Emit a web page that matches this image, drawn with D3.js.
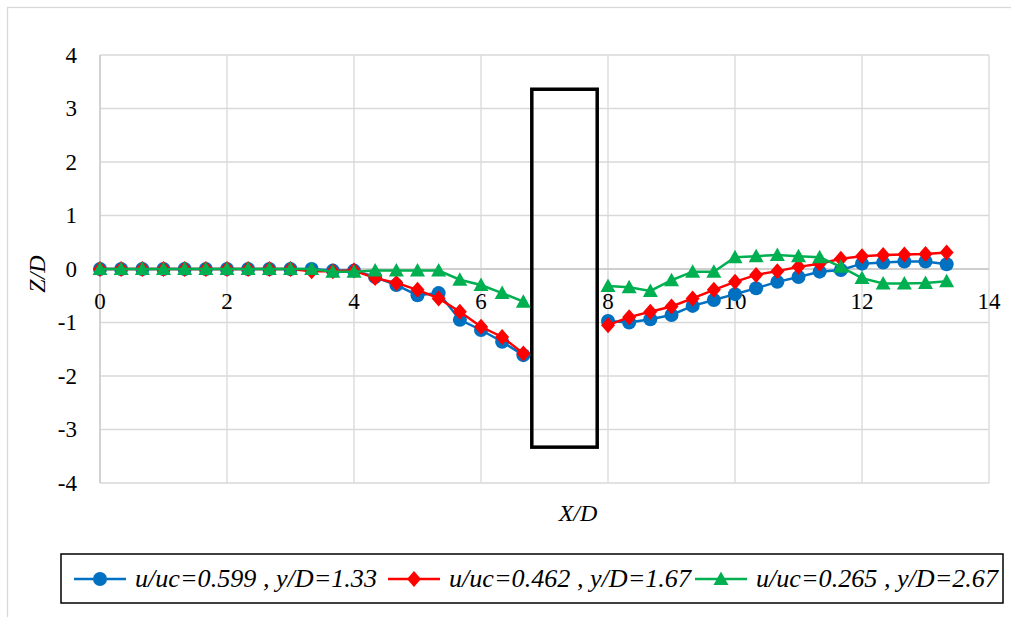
<!doctype html>
<html>
  <head>
    <meta charset="utf-8">
    <title>Z/D profiles</title>
    <script src="https://d3js.org/d3.v7.min.js"></script>
    <style>
      body { margin: 0; background: #fff; }
    </style>
  </head>
  <body>
    <svg></svg>
    <script>
      var w = 1011,
        h = 617,
        serif = "'Liberation Serif', 'DejaVu Serif', serif";

      // X/D positions (gap where the obstacle sits)
      var xValues = [0, 0.333, 0.667, 1, 1.333, 1.667, 2, 2.333, 2.667, 3, 3.333, 3.667, 4,
        4.333, 4.667, 5, 5.333, 5.667, 6, 6.333, 6.667, 7, 7.333, 7.667,
        8, 8.333, 8.667, 9, 9.333, 9.667, 10, 10.333, 10.667, 11, 11.333, 11.667,
        12, 12.333, 12.667, 13, 13.333];

      var blueZ = [0, 0, 0, 0, 0, 0, 0, 0, 0, 0, 0, -0.03, -0.03,
        -0.15, -0.30, -0.49, -0.45, -0.95, -1.14, -1.36, -1.61, null, null, null,
        -0.97, -1.0, -0.94, -0.86, -0.69, -0.58, -0.47, -0.36, -0.24, -0.15, -0.05, -0.02,
        0.10, 0.12, 0.14, 0.14, 0.09];

      var redZ = [0, 0, 0, 0, 0, 0, 0, 0, 0, 0, -0.04, -0.04, -0.03,
        -0.17, -0.26, -0.39, -0.55, -0.80, -1.08, -1.27, -1.58, null, null, null,
        -1.05, -0.90, -0.80, -0.70, -0.55, -0.39, -0.24, -0.11, -0.04, 0.04, 0.10, 0.19,
        0.24, 0.26, 0.27, 0.28, 0.31];

      var greenZ = [0, 0, 0, 0, 0, 0, 0, 0, 0, 0, 0, -0.05, -0.05,
        -0.03, -0.03, -0.03, -0.03, -0.20, -0.30, -0.45, -0.61, null, null, null,
        -0.32, -0.34, -0.41, -0.21, -0.05, -0.05, 0.22, 0.24, 0.26, 0.24, 0.22, 0.04,
        -0.17, -0.27, -0.27, -0.26, -0.23];

      var seriesNames = ['u/uc=0.599 , y/D=1.33', 'u/uc=0.462 , y/D=1.67', 'u/uc=0.265 , y/D=2.67'];
      var xTicks = [0, 2, 4, 6, 8, 10, 12, 14];
      var yTicks = [-4, -3, -2, -1, 0, 1, 2, 3, 4];

      // obstacle outline in X/D, Z/D
      var obstacleX = [6.8, 7.83];
      var obstacleZ = [-3.33, 3.36];

      var colors = ['#0070C0', '#FF0000', '#00B050'];
      var shapes = ['circle', 'diamond', 'triangle'];

      var svg = d3.select('svg')
        .attr('width', w)
        .attr('height', h)
        .style('font-family', serif);

      // chart area border
      svg.append('rect')
        .attr('x', 7.5).attr('y', 7.5)
        .attr('width', w + 20).attr('height', h + 20)
        .attr('fill', 'none')
        .attr('stroke', '#d9d9d9')
        .attr('stroke-width', 1.3);

      var xScale = d3.scaleLinear().domain([0, 14]).range([100, 989]);
      var yScale = d3.scaleLinear().domain([-4, 4]).range([483, 55]);

      // gridlines
      svg.append('g').selectAll('line')
        .data(yTicks)
        .enter().append('line')
        .attr('x1', xScale(0)).attr('x2', xScale(14))
        .attr('y1', function(d) { return yScale(d); })
        .attr('y2', function(d) { return yScale(d); })
        .attr('stroke', '#d9d9d9')
        .attr('stroke-width', 1.3);

      svg.append('g').selectAll('line')
        .data(xTicks)
        .enter().append('line')
        .attr('y1', yScale(-4)).attr('y2', yScale(4))
        .attr('x1', function(d) { return xScale(d); })
        .attr('x2', function(d) { return xScale(d); })
        .attr('stroke', '#d9d9d9')
        .attr('stroke-width', 1.3);

      // axis lines
      svg.append('line')
        .attr('x1', xScale(0)).attr('x2', xScale(14))
        .attr('y1', yScale(0)).attr('y2', yScale(0))
        .attr('stroke', '#c8c8c8').attr('stroke-width', 1.3);
      svg.append('line')
        .attr('x1', xScale(0)).attr('x2', xScale(0))
        .attr('y1', yScale(-4)).attr('y2', yScale(4))
        .attr('stroke', '#c8c8c8').attr('stroke-width', 1.3);

      // tick labels
      svg.append('g').selectAll('text')
        .data(yTicks)
        .enter().append('text')
        .attr('x', 77)
        .attr('y', function(d) { return yScale(d); })
        .attr('dy', '0.33em')
        .attr('text-anchor', 'end')
        .style('font-family', serif)
        .style('font-size', '23px')
        .text(function(d) { return d; });

      svg.append('g').selectAll('text')
        .data(xTicks)
        .enter().append('text')
        .attr('x', function(d) { return xScale(d); })
        .attr('y', yScale(0) + 40)
        .attr('text-anchor', 'middle')
        .style('font-family', serif)
        .style('font-size', '23px')
        .text(function(d) { return d; });

      // axis titles
      svg.append('text')
        .attr('transform', 'translate(45,' + 274 + ') rotate(-90)')
        .attr('text-anchor', 'middle')
        .style('font-family', serif)
        .style('font-size', '24px')
        .style('font-style', 'italic')
        .text('Z/D');

      svg.append('text')
        .attr('x', 578).attr('y', 521)
        .attr('text-anchor', 'middle')
        .style('font-family', serif)
        .style('font-size', '24px')
        .style('font-style', 'italic')
        .text('X/D');

      // obstacle
      svg.append('rect')
        .attr('x', xScale(obstacleX[0]))
        .attr('y', yScale(obstacleZ[1]))
        .attr('width', xScale(obstacleX[1]) - xScale(obstacleX[0]))
        .attr('height', yScale(obstacleZ[0]) - yScale(obstacleZ[1]))
        .attr('fill', 'none')
        .attr('stroke', '#000')
        .attr('stroke-width', 3.5);

      function markerPath(shape) {
        if (shape === 'circle') return d3.symbol().type(d3.symbolCircle).size(Math.PI * 49)();
        if (shape === 'diamond') return 'M0,-8L7,0L0,8L-7,0Z';
        return 'M0,-7.5L7.5,6L-7.5,6Z';
      }

      var allSeries = [blueZ, redZ, greenZ];

      var line = d3.line()
        .defined(function(d) { return d[1] != null; })
        .x(function(d) { return xScale(d[0]); })
        .y(function(d) { return yScale(d[1]); });

      allSeries.forEach(function(vals, si) {
        var pts = xValues.map(function(x, i) { return [x, vals[i]]; });
        var g = svg.append('g');
        g.append('path')
          .datum(pts)
          .attr('d', line)
          .attr('fill', 'none')
          .attr('stroke', colors[si])
          .attr('stroke-width', 2.5);
        g.selectAll('path.m')
          .data(pts.filter(function(d) { return d[1] != null; }))
          .enter().append('path')
          .attr('class', 'm')
          .attr('d', markerPath(shapes[si]))
          .attr('transform', function(d) {
            return 'translate(' + xScale(d[0]) + ',' + yScale(d[1]) + ')';
          })
          .attr('fill', colors[si]);
      });

      // legend
      svg.append('rect')
        .attr('x', 61).attr('y', 554)
        .attr('width', 942).attr('height', 49)
        .attr('fill', '#fff')
        .attr('stroke', '#000')
        .attr('stroke-width', 1.5);

      var legendX = [74, 388, 695];
      var legend = svg.append('g').selectAll('g')
        .data(seriesNames)
        .enter().append('g')
        .attr('transform', function(d, i) { return 'translate(' + legendX[i] + ',579)'; });

      legend.append('line')
        .attr('x1', 0).attr('x2', 52)
        .attr('stroke', function(d, i) { return colors[i]; })
        .attr('stroke-width', 2.5);
      legend.append('path')
        .attr('d', function(d, i) { return markerPath(shapes[i]); })
        .attr('transform', 'translate(26,0)')
        .attr('fill', function(d, i) { return colors[i]; });
      legend.append('text')
        .attr('x', 61)
        .attr('dy', '0.33em')
        .attr('textLength', 242)
        .attr('lengthAdjust', 'spacingAndGlyphs')
        .style('font-family', serif)
        .style('font-size', '25px')
        .style('font-style', 'italic')
        .text(function(d) { return d; });
    </script>
  </body>
</html>
